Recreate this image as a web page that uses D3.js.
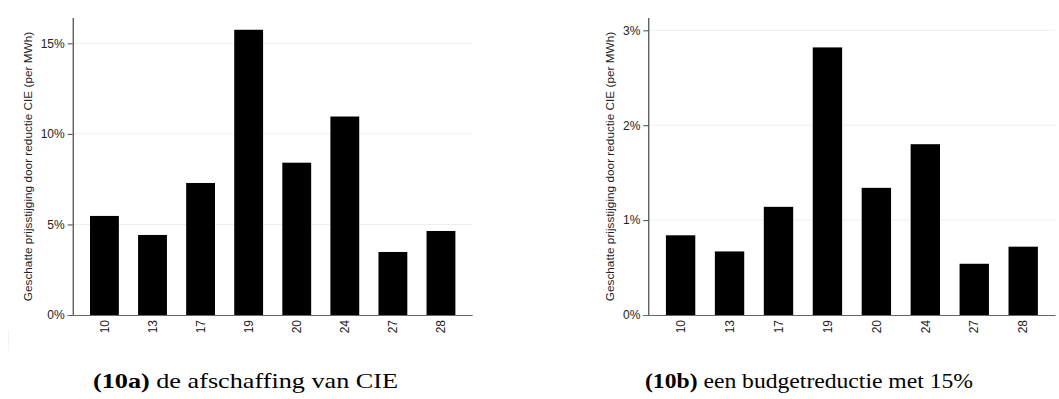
<!DOCTYPE html>
<html>
<head>
<meta charset="utf-8">
<title>Prijsstijging</title>
<script src="https://cdn.jsdelivr.net/npm/d3@7"></script>
<style>
  body { margin: 0; background: #fff; }
  .tick text { font-family: "Liberation Sans", Arial, sans-serif; fill: #222; }
  .caption { font-family: "Liberation Serif", "Times New Roman", serif; fill: #000; }
</style>
</head>
<body>
<div id="chart"></div>
<script>
var categories = ["10", "13", "17", "19", "20", "24", "27", "28"];
var valuesA = [5.47, 4.42, 7.29, 15.75, 8.41, 10.96, 3.48, 4.64];
var valuesB = [0.84, 0.67, 1.14, 2.82, 1.34, 1.80, 0.54, 0.72];
var ticksA = [0, 5, 10, 15];
var ticksB = [0, 1, 2, 3];
var yTitle = "Geschatte prijsstijging door reductie CIE (per MWh)";

var w = 1059, h = 399;
var svg = d3.select("#chart").append("svg")
  .attr("width", w).attr("height", h);

// faint frame edge of the left figure
svg.append("line")
  .attr("x1", 8.5).attr("x2", 8.5).attr("y1", 330).attr("y2", 351)
  .attr("stroke", "#f2f2f2");

function drawPanel(o) {
  var g = svg.append("g");
  var x = d3.scaleBand().domain(categories)
    .range([o.left, o.right]).paddingInner(0.4).paddingOuter(0.36);
  var y = d3.scaleLinear().domain([0, o.max]).range([315, 18]);

  // gridlines
  g.selectAll(".grid").data(o.ticks.filter(function(t) { return t > 0; }))
    .enter().append("line")
    .attr("x1", o.left).attr("x2", o.right)
    .attr("y1", function(d) { return y(d); })
    .attr("y2", function(d) { return y(d); })
    .attr("stroke", "#e8f0f0").attr("stroke-width", 1);

  // bars
  g.selectAll(".bar").data(o.values).enter().append("rect")
    .attr("x", function(d, i) { return x(categories[i]); })
    .attr("y", function(d) { return y(d); })
    .attr("width", x.bandwidth())
    .attr("height", function(d) { return y(0) - y(d); })
    .attr("fill", "#000");

  // y axis
  var ya = g.append("g").attr("transform", "translate(" + o.left + ",0)")
    .call(d3.axisLeft(y).tickValues(o.ticks).tickSize(5).tickPadding(3)
      .tickFormat(function(d) { return d + "%"; }));
  ya.select(".domain").attr("stroke", "#222")
    .attr("d", "M0.5," + 18 + "V" + 315);
  ya.selectAll(".tick line").attr("stroke", "#444");
  ya.selectAll(".tick text").attr("font-size", "12px");

  // x axis
  var xa = g.append("g").attr("transform", "translate(0,315)")
    .call(d3.axisBottom(x).tickSize(0).tickPadding(5));
  xa.select(".domain").attr("stroke", "#666")
    .attr("d", "M" + (o.left - 5) + ",0.5H" + o.right);
  xa.selectAll(".tick text")
    .attr("font-size", "12px")
    .attr("transform", "rotate(-90)")
    .attr("text-anchor", "end")
    .attr("x", -5).attr("y", 0).attr("dy", "0.35em");

  // y title
  g.append("text")
    .attr("transform", "translate(" + o.titleX + "," + ((18 + 315) / 2) + ") rotate(-90)")
    .attr("text-anchor", "middle")
    .attr("dy", "0.35em")
    .attr("font-family", "'Liberation Sans', Arial, sans-serif")
    .attr("font-size", "11.8px")
    .attr("fill", "#222")
    .text(yTitle);

  // caption
  var cap = g.append("text").attr("class", "caption")
    .attr("x", o.capX).attr("y", 388)
    .attr("font-size", "21px")
    .attr("textLength", o.capLen)
    .attr("lengthAdjust", "spacingAndGlyphs");
  cap.append("tspan").attr("font-weight", "bold").text(o.capBold);
  cap.append("tspan").text(o.capText);
}

drawPanel({
  values: valuesA, ticks: ticksA, max: 16.4,
  left: 72.7, right: 472.7, titleX: 28,
  capX: 93, capLen: 305, capBold: "(10a)", capText: " de afschaffing van CIE"
});

drawPanel({
  values: valuesB, ticks: ticksB, max: 3.13,
  left: 648.3, right: 1055.5, titleX: 610,
  capX: 645, capLen: 328, capBold: "(10b)", capText: " een budgetreductie met 15%"
});
</script>
</body>
</html>
